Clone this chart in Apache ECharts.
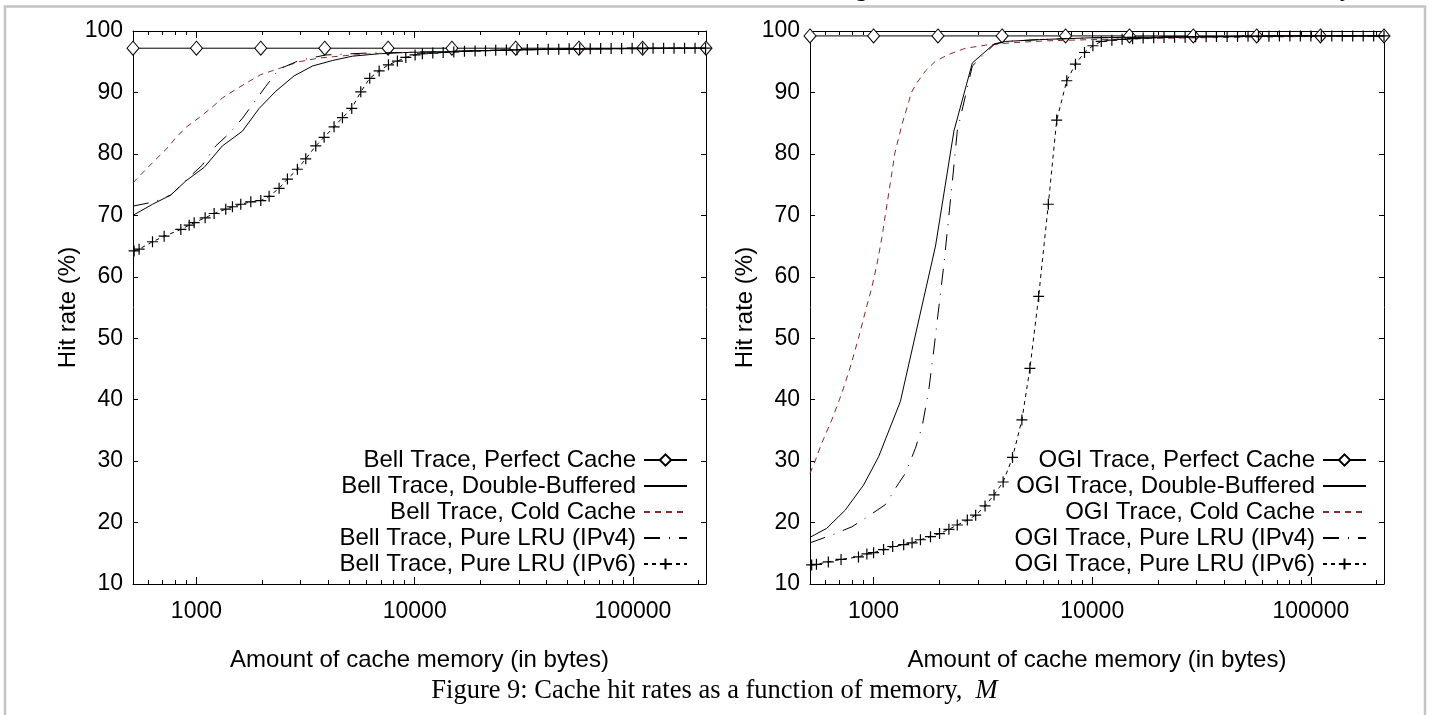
<!DOCTYPE html>
<html><head><meta charset="utf-8">
<script src="https://cdn.jsdelivr.net/npm/echarts@6/dist/echarts.min.js"></script>
<style>html,body{margin:0;padding:0;background:#fff}#c{width:1429px;height:715px}</style>
</head><body><div id="c"></div>
<script>
// ---------- tick labels ----------
const xMajorTicks = [1000, 10000, 100000];
const xMinorTicks = [600, 700, 800, 900, 2000, 3000, 4000, 5000, 6000, 7000, 8000, 9000,
  20000, 30000, 40000, 50000, 60000, 70000, 80000, 90000, 200000];
const xMin = 512, xMax = 216000;
const yMin = 10, yMax = 100, yStep = 10;

const xAxisName = 'Amount of cache memory (in bytes)';
const yAxisName = 'Hit rate (%)';
const caption = 'Figure 9: Cache hit rates as a function of memory,  ';
const captionVar = 'M';

// ---------- categories (series names) ----------
const bellNames = ['Bell Trace, Perfect Cache', 'Bell Trace, Double-Buffered', 'Bell Trace, Cold Cache',
  'Bell Trace, Pure LRU (IPv4)', 'Bell Trace, Pure LRU (IPv6)'];
const ogiNames = ['OGI Trace, Perfect Cache', 'OGI Trace, Double-Buffered', 'OGI Trace, Cold Cache',
  'OGI Trace, Pure LRU (IPv4)', 'OGI Trace, Pure LRU (IPv6)'];

// ---------- data: [bytes, hit rate %] ----------
const bellPerfect = [[512,97.2],[1000,97.2],[1970,97.2],[3870,97.2],[7550,97.2],[14800,97.2],[29000,97.2],[56500,97.2],[110600,97.2],[216000,97.2]];
const bellDouble = [[512,70.0],[629,71.8],[763,73.3],[894,75.6],[1084,77.8],[1315,81.3],[1624,83.7],[1937,87.4],[2309,90.2],[2802,92.7],[3400,94.3],[4200,95.2],[5180,95.9],[6870,96.3],[9100,96.5],[12050,96.6],[20000,96.8],[40000,97.0],[80000,97.1],[216000,97.2]];
const bellCold = [[512,75.3],[566,76.9],[651,79.1],[724,80.7],[804,82.6],[894,84.3],[1028,85.9],[1163,87.4],[1315,89.1],[1514,90.5],[1743,91.8],[1971,92.9],[2391,93.9],[2953,95.0],[3647,95.6],[4830,96.0],[6400,96.3],[8470,96.5],[12050,96.6],[20000,96.8],[40000,97.0],[80000,97.1],[216000,97.2]];
const bellIPv4 = [[512,71.5],[640,72.2],[763,73.3],[894,75.7],[1065,78.2],[1226,81.3],[1411,83.3],[1624,85.8],[1883,88.9],[2078,91.0],[2391,93.8],[2953,95.2],[3910,96.1],[5970,96.4],[12050,96.6],[20000,96.8],[40000,97.0],[80000,97.1],[216000,97.2]];
const bellIPv6 = [[518,64.2],[546,64.5],[629,65.7],[711,66.6],[848,67.7],[926,68.4],[976,68.8],[1096,69.6],[1205,70.3],[1362,71.0],[1462,71.4],[1596,71.8],[1774,72.2],[1971,72.4],[2152,73.1],[2391,74.4],[2611,75.9],[2900,77.5],[3168,79.2],[3520,81.3],[3845,82.7],[4270,84.4],[4665,85.9],[5146,87.4],[5660,90.1],[6220,92.3],[6870,93.5],[7580,94.5],[8330,95.1],[9100,95.7],[10040,96.1],[10840,96.3],[12100,96.4],[13500,96.5],[15100,96.6],[16900,96.7],[18900,96.75],[21100,96.8],[23500,96.85],[26300,96.9],[29400,96.95],[32800,97.0],[36600,97.0],[40900,97.05],[45700,97.05],[51000,97.1],[57000,97.1],[63700,97.1],[71100,97.15],[79400,97.15],[88700,97.15],[99100,97.2],[110700,97.2],[123600,97.2],[138100,97.2],[154200,97.2],[172300,97.2],[192400,97.2],[215000,97.2]];

const ogiPerfect = [[512,99.2],[1000,99.2],[1970,99.2],[3870,99.2],[7550,99.2],[14800,99.2],[29000,99.2],[56500,99.2],[110600,99.2],[216000,99.2]];
const ogiDouble = [[512,17.6],[610,19.05],[741,22.0],[900,26.1],[1054,30.7],[1326,39.7],[1920,65.0],[2330,83.7],[2829,94.8],[3557,97.9],[4025,98.3],[5730,98.6],[10070,98.9],[30000,99.1],[100000,99.2],[216000,99.2]];
const ogiCold = [[512,28.0],[540,30.0],[579,32.9],[644,36.7],[715,41.0],[781,45.2],[853,50.0],[932,55.3],[982,58.3],[1036,62.0],[1092,66.4],[1131,70.0],[1214,77.0],[1249,80.0],[1349,84.8],[1448,88.5],[1489,90.0],[1581,91.6],[1727,93.5],[1920,95.1],[2211,96.2],[2637,97.2],[3260,97.7],[4320,98.1],[6150,98.4],[10070,98.6],[20000,98.8],[50000,99.0],[100000,99.1],[216000,99.2]];
const ogiIPv4 = [[512,16.7],[644,17.97],[795,19.3],[916,20.7],[1131,22.9],[1303,26.4],[1398,28.0],[1554,32.1],[1667,35.6],[1789,41.6],[1886,48.1],[1989,55.1],[2097,62.0],[2290,75.3],[2414,83.7],[2829,94.3],[3557,97.8],[4025,98.3],[5730,98.6],[10070,98.9],[30000,99.1],[100000,99.2],[216000,99.2]];
const ogiIPv6 = [[521,13.1],[548,13.2],[621,13.6],[710,14.0],[853,14.4],[932,14.9],[1000,15.1],[1111,15.6],[1223,16.1],[1373,16.4],[1500,16.7],[1638,17.2],[1821,17.7],[2003,18.2],[2211,18.9],[2414,19.6],[2684,20.4],[2931,21.2],[3235,22.7],[3557,24.5],[3913,26.6],[4320,30.6],[4768,36.7],[5189,45.1],[5688,56.8],[6300,71.8],[6880,85.5],[7647,91.9],[8380,94.6],[9220,96.5],[10070,97.6],[11000,98.3],[12300,98.5],[13700,98.65],[15300,98.75],[17100,98.85],[19100,98.9],[21300,98.95],[23800,99.0],[26600,99.0],[29700,99.05],[33200,99.05],[37000,99.1],[41400,99.1],[46200,99.1],[51600,99.15],[57600,99.15],[64300,99.15],[71800,99.2],[80200,99.2],[89500,99.2],[100000,99.2],[111600,99.2],[124600,99.2],[139200,99.2],[155400,99.2],[173500,99.2],[193700,99.2],[216000,99.2]];

// ---------- styles ----------
const FONT = "'Liberation Sans', Arial, Helvetica, sans-serif";
const SERIF = "'Liberation Serif', 'Times New Roman', serif";
const COLD = '#8b2a2a';
const PLUS = 'path://M0,6H12M6,0V12';
const kinds = [
  { lineStyle: { color: '#000', width: 1, type: 'solid' }, symbol: 'diamond', symbolSize: [12, 14],
    itemStyle: { color: '#fff', borderColor: '#000', borderWidth: 1 } },
  { lineStyle: { color: '#000', width: 1, type: 'solid' }, symbol: 'none', itemStyle: { color: '#000' } },
  { lineStyle: { color: COLD, width: 1, type: [6, 5] }, symbol: 'none', itemStyle: { color: COLD } },
  { lineStyle: { color: '#000', width: 1, type: [16, 9, 1, 9] }, symbol: 'none', itemStyle: { color: '#000' } },
  { lineStyle: { color: '#000', width: 1, type: [4, 4] }, symbol: PLUS, symbolSize: 11,
    itemStyle: { color: '#000', borderColor: '#000', borderWidth: 1.2 } }
];

function mkSeries(name, data, k, g) {
  const s = kinds[k];
  return Object.assign({
    type: 'line', name: name, data: data, xAxisIndex: g * 4, yAxisIndex: g * 2,
    showSymbol: s.symbol !== 'none', showAllSymbol: true, smooth: false, silent: true,
    z: k === 0 ? 2 : 3, emphasis: { disabled: true }
  }, JSON.parse(JSON.stringify(s)));
}

const labelFmt = v => String(Math.round(v));
function xAxes(g) {
  const base = { type: 'log', gridIndex: g, min: xMin, max: xMax, splitLine: { show: false }, minorTick: { show: false } };
  return [
    Object.assign({}, base, { position: 'bottom',
      axisLine: { show: true, onZero: false, lineStyle: { color: '#000', width: 1 } },
      axisTick: { show: true, inside: true, length: 7, customValues: xMajorTicks, lineStyle: { color: '#000' } },
      axisLabel: { show: true, customValues: xMajorTicks, formatter: labelFmt, fontSize: 23, color: '#000', fontFamily: FONT, margin: 16 },
      name: xAxisName, nameLocation: 'middle', nameGap: 64,
      nameTextStyle: { fontSize: 24, color: '#000', fontFamily: FONT } }),
    Object.assign({}, base, { position: 'bottom',
      axisLine: { show: false, onZero: false },
      axisTick: { show: true, inside: true, length: 4, customValues: xMinorTicks, lineStyle: { color: '#000' } },
      axisLabel: { show: false } }),
    Object.assign({}, base, { position: 'top',
      axisLine: { show: true, onZero: false, lineStyle: { color: '#000', width: 1 } },
      axisTick: { show: true, inside: true, length: 7, customValues: xMajorTicks, lineStyle: { color: '#000' } },
      axisLabel: { show: false } }),
    Object.assign({}, base, { position: 'top',
      axisLine: { show: false, onZero: false },
      axisTick: { show: true, inside: true, length: 4, customValues: xMinorTicks, lineStyle: { color: '#000' } },
      axisLabel: { show: false } })
  ];
}
function yAxes(g) {
  const base = { type: 'value', gridIndex: g, min: yMin, max: yMax, interval: yStep, splitLine: { show: false } };
  return [
    Object.assign({}, base, { position: 'left',
      axisLine: { show: true, onZero: false, lineStyle: { color: '#000', width: 1 } },
      axisTick: { show: true, inside: true, length: 5, lineStyle: { color: '#000' } },
      axisLabel: { fontSize: 23, color: '#000', fontFamily: FONT, margin: 10 },
      name: yAxisName, nameLocation: 'middle', nameGap: 44,
      nameTextStyle: { fontSize: 24, color: '#000', fontFamily: FONT } }),
    Object.assign({}, base, { position: 'right',
      axisLine: { show: true, onZero: false, lineStyle: { color: '#000', width: 1 } },
      axisTick: { show: true, inside: true, length: 5, lineStyle: { color: '#000' } },
      axisLabel: { show: false } })
  ];
}
function legend(names, right) {
  return {
    // plain-line entries hide the legend symbol so only the line pattern shows
    data: names.map((n, i) => (kinds[i].symbol === 'none' ? { name: n, itemStyle: { opacity: 0 } } : { name: n })),
    orient: 'vertical', align: 'right', right: right, top: 447, padding: 0,
    itemWidth: 43, itemHeight: 14, itemGap: 0, selectedMode: false,
    textStyle: { fontSize: 24, lineHeight: 26, color: '#000', fontFamily: FONT, padding: [0, 3, 0, 0] }
  };
}

const bellData = [bellPerfect, bellDouble, bellCold, bellIPv4, bellIPv6];
const ogiData = [ogiPerfect, ogiDouble, ogiCold, ogiIPv4, ogiIPv6];
const series = [];
bellData.forEach((d, i) => series.push(mkSeries(bellNames[i], d, i, 0)));
ogiData.forEach((d, i) => series.push(mkSeries(ogiNames[i], d, i, 1)));

const chart = echarts.init(document.getElementById('c'), null, { renderer: 'canvas' });
chart.setOption({
  animation: false,
  backgroundColor: '#fff',
  textStyle: { fontFamily: FONT },
  title: {
    text: caption + '{m|' + captionVar + '}', left: 'center', top: 678, padding: 0,
    textStyle: { fontFamily: SERIF, fontSize: 26.5, fontWeight: 'normal', color: '#000',
      rich: { m: { fontFamily: SERIF, fontSize: 26.5, fontStyle: 'italic', color: '#000' } } }
  },
  grid: [
    { left: 133, top: 31, width: 573, height: 553, containLabel: false },
    { left: 810, top: 31, width: 574, height: 553, containLabel: false }
  ],
  xAxis: xAxes(0).concat(xAxes(1)),
  yAxis: yAxes(0).concat(yAxes(1)),
  legend: [legend(bellNames, 741), legend(ogiNames, 62)],
  graphic: [
    { type: 'rect', silent: true, z: 100, shape: { x: 5, y: 6.5, width: 1420, height: 720 },
      style: { fill: 'none', stroke: '#c3c3c3', lineWidth: 2.5 } },
    { type: 'text', silent: true, x: 855, y: -23, style: { text: 'g', font: "25px 'Liberation Serif'", fill: '#000' } },
    { type: 'text', silent: true, x: 1340, y: -23, style: { text: 'y', font: "25px 'Liberation Serif'", fill: '#000' } }
  ],
  series: series
});
</script>
</body></html>
